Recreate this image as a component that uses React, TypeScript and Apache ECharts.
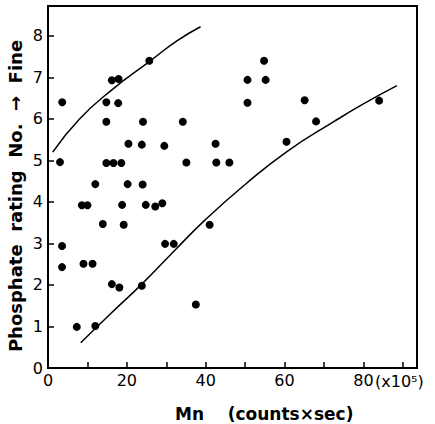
import React, { useEffect, useRef } from "react";
import * as echarts from "echarts";

// Observed data points: [Mn (x10^5 counts x sec), phosphate rating]
const points: [number, number][] = [
  [3.6, 6.4], [25.7, 7.4], [16.2, 6.93], [17.9, 6.96], [14.8, 6.4], [17.8, 6.38],
  [14.8, 5.93], [24.1, 5.93], [34.2, 5.93], [20.4, 5.4], [23.8, 5.38], [29.5, 5.35],
  [42.5, 5.4], [3.05, 4.96], [14.8, 4.94], [16.6, 4.94], [18.6, 4.94], [35.1, 4.95],
  [42.7, 4.95], [46.0, 4.95], [12.0, 4.43], [20.2, 4.43], [24.0, 4.42], [8.6, 3.92],
  [10.0, 3.92], [18.8, 3.93], [24.8, 3.93], [27.2, 3.89], [29.0, 3.97], [3.56, 2.94],
  [3.56, 2.43], [9.0, 2.51], [11.3, 2.51], [13.9, 3.47], [19.2, 3.45], [16.2, 2.02],
  [18.1, 1.94], [23.8, 1.98], [7.3, 0.99], [12.0, 1.01], [29.7, 2.99], [31.9, 2.99],
  [37.5, 1.53], [41.0, 3.45], [54.8, 7.4], [50.6, 6.94], [55.2, 6.94], [50.6, 6.39],
  [65.1, 6.45], [68.0, 5.94], [60.5, 5.45], [84.0, 6.44],
];

// Hand-drawn envelope curves
const upperCurve: [number, number][] = [
  [1.2, 5.2], [8.0, 6.0], [16.2, 6.7], [25.7, 7.38], [32.7, 7.88], [38.7, 8.22],
];
const lowerCurve: [number, number][] = [
  [8.3, 0.61], [16.0, 1.32], [23.8, 2.02], [32.0, 2.82], [40.0, 3.58], [50.0, 4.42],
  [60.7, 5.22], [72.6, 5.94], [80.0, 6.36], [88.5, 6.8],
];

const xTickLabels = [0, 20, 40, 60, 80];
const yTickLabels = [0, 1, 2, 3, 4, 5, 6, 7, 8];

const xTitle = "Mn    (counts×sec)";
const yTitle = "Phosphate  rating  No.  →  Fine";
const xUnit = "(x10⁵)";

export default function App() {
  const ref = useRef<HTMLDivElement>(null);

  useEffect(() => {
    if (!ref.current) return;
    const chart = echarts.init(ref.current, null, { renderer: "svg" });
    const font = "DejaVu Sans";
    chart.setOption({
      animation: false,
      backgroundColor: "#fff",
      grid: {
        left: 48,
        right: 18,
        top: 6,
        bottom: 56,
        show: true,
        borderColor: "#000",
        borderWidth: 2,
        backgroundColor: "transparent",
      },
      xAxis: {
        type: "value",
        min: 0,
        max: 93.6,
        interval: 10,
        axisLine: { show: true, lineStyle: { color: "#000", width: 2 } },
        axisTick: { show: true, inside: true, length: 6, lineStyle: { color: "#000", width: 1.5 } },
        splitLine: { show: false },
        axisLabel: {
          color: "#000",
          fontFamily: font,
          fontSize: 16,
          margin: 4,
          showMaxLabel: false,
          formatter: (v: number) => (xTickLabels.includes(v) ? String(v) : ""),
        },
      },
      yAxis: {
        type: "value",
        min: 0,
        max: 8.72,
        interval: 1,
        axisLine: { show: true, lineStyle: { color: "#000", width: 2 } },
        axisTick: { show: true, inside: true, length: 6, lineStyle: { color: "#000", width: 1.5 } },
        splitLine: { show: false },
        axisLabel: {
          color: "#000",
          fontFamily: font,
          fontSize: 16,
          margin: 5,
          showMaxLabel: false,
          formatter: (v: number) => (yTickLabels.includes(v) ? String(v) : ""),
        },
      },
      series: [
        {
          type: "scatter",
          data: points,
          symbol: "circle",
          symbolSize: 8,
          itemStyle: { color: "#000", opacity: 1 },
        },
        {
          type: "line",
          data: upperCurve,
          smooth: 0.5,
          showSymbol: false,
          lineStyle: { color: "#000", width: 1.5 },
        },
        {
          type: "line",
          data: lowerCurve,
          smooth: 0.5,
          showSymbol: false,
          lineStyle: { color: "#000", width: 1.5 },
        },
      ],
      graphic: [
        {
          type: "text",
          x: 15,
          y: 196,
          rotation: Math.PI / 2,
          style: {
            text: yTitle,
            fontFamily: font,
            fontSize: 18,
            fontWeight: "bold",
            fill: "#000",
            align: "center",
            verticalAlign: "middle",
          },
        },
        {
          type: "text",
          x: 175,
          y: 414,
          style: {
            text: xTitle,
            fontFamily: font,
            fontSize: 17,
            fontWeight: "bold",
            fill: "#000",
            align: "left",
            verticalAlign: "middle",
          },
        },
        {
          type: "text",
          x: 375,
          y: 381,
          style: {
            text: xUnit,
            fontFamily: font,
            fontSize: 16,
            fill: "#000",
            align: "left",
            verticalAlign: "middle",
          },
        },
      ],
    });
    return () => chart.dispose();
  }, []);

  return (
    <div
      ref={ref}
      style={{ position: "fixed", left: 0, top: 0, width: 435, height: 424, background: "#fff" }}
    />
  );
}
